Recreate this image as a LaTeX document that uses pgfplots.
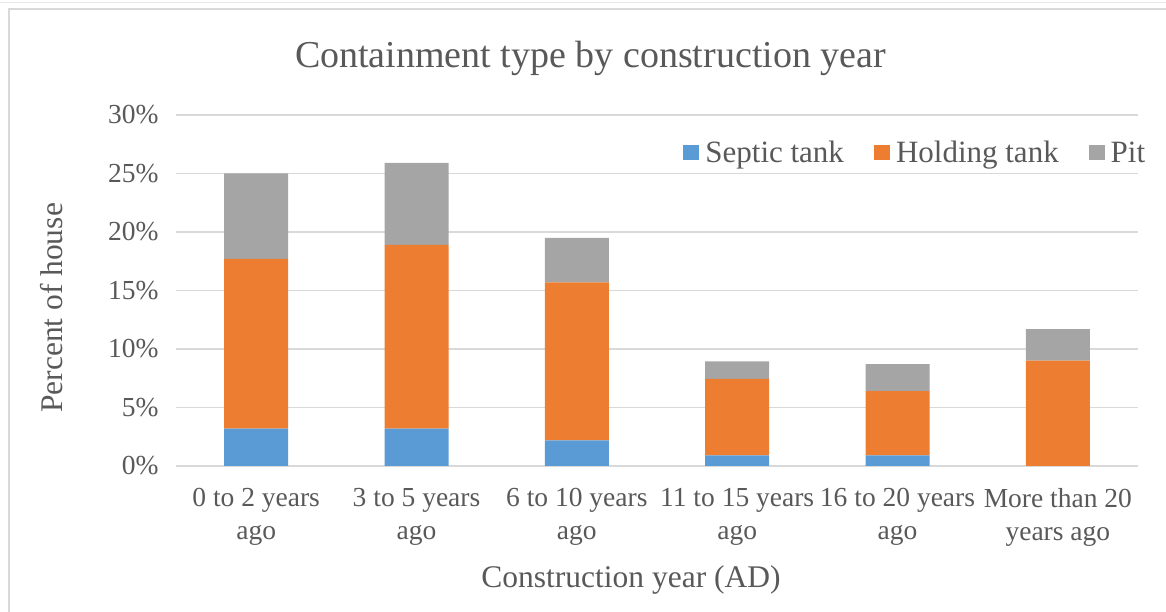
\documentclass[border=0pt]{standalone}
\usepackage{pgfplots}
\pgfplotsset{compat=1.18}
\usepackage{fontspec}
\setmainfont{Liberation Serif}
\definecolor{cSeptic}{HTML}{5B9BD5}
\definecolor{cHolding}{HTML}{ED7D31}
\definecolor{cPit}{HTML}{A5A5A5}
\definecolor{cText}{HTML}{595959}
\definecolor{cGrid}{HTML}{D9D9D9}
\begin{document}
\begin{tikzpicture}[x=1pt,y=1pt]
\useasboundingbox (0,0) rectangle (1166,612);
\draw[cGrid, line width=1.2pt] (9,0) -- (9,603) -- (1166,603);
\draw[cGrid!60, line width=1pt] (0,609) -- (1166,609);
\begin{axis}[
  at={(176pt,146pt)}, anchor=south west,
  scale only axis, width=962pt, height=351pt,
  ybar stacked, bar width=64pt,
  xmin=-0.5, xmax=5.5, ymin=0, ymax=30,
  xtick=data,
  xticklabels={{0 to 2 years\\ago},{3 to 5 years\\ago},{6 to 10 years\\ago},{11 to 15 years\\ago},{16 to 20 years\\ago},{More than 20\\years ago}},
  ytick={0,5,...,30},
  yticklabel={\pgfmathprintnumber{\tick}\%},
  /pgf/number format/assume math mode=true,
  ymajorgrids, grid style={cGrid, line width=1.2pt},
  axis line style={draw=none},
  major tick length=0pt,
  tick label style={font=\fontsize{27.5}{33}\selectfont, text=cText},
  xticklabel style={align=center, yshift=-19pt},
  yticklabel style={xshift=-14pt},
  legend columns=3,
  legend style={draw=none, fill=none, at={(0.7685,0.892)}, anchor=center,
    font=\fontsize{31}{36}\selectfont, text=cText,
    /tikz/every even column/.append style={column sep=28pt}},
  legend image code/.code={\fill[#1] (0pt,-7.5pt) rectangle (16pt,8pt); \path (20pt,0pt);},
]
\addplot[fill=cSeptic, draw=none] coordinates {(0,3.2) (1,3.2) (2,2.2) (3,0.9) (4,0.9) (5,0)};
\addplot[fill=cHolding, draw=none] coordinates {(0,14.5) (1,15.7) (2,13.5) (3,6.55) (4,5.5) (5,9.0)};
\addplot[fill=cPit, draw=none] coordinates {(0,7.3) (1,7.0) (2,3.8) (3,1.5) (4,2.3) (5,2.7)};
\legend{Septic tank, Holding tank, Pit}
\end{axis}
\node[text=cText, font=\fontsize{38}{44}\selectfont] at (590.5,554) {Containment type by construction year};
\node[text=cText, font=\fontsize{31.5}{36}\selectfont] at (631,32) {Construction year (AD)};
\node[text=cText, font=\fontsize{31.5}{36}\selectfont, rotate=90] at (52,304) {Percent of house};
\end{tikzpicture}
\end{document}
